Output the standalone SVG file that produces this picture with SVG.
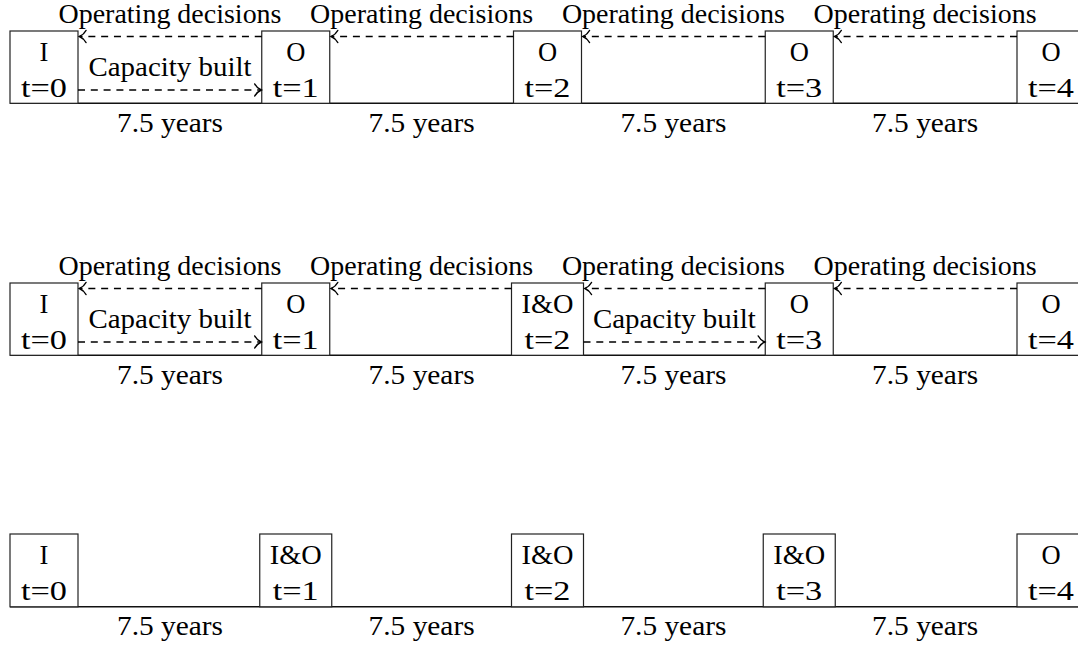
<svg xmlns="http://www.w3.org/2000/svg" width="1078" height="648" viewBox="0 0 1078 648" font-family="'Liberation Serif', 'DejaVu Serif', serif">
<style>
text{font-family:"Liberation Serif","DejaVu Serif",serif;font-size:26.5px;fill:#000;text-anchor:middle}
.box{fill:#fff;stroke:#222;stroke-width:1.2}
.axis{stroke:#111;stroke-width:1.4;fill:none}
.dash{stroke:#000;stroke-width:1.5;fill:none;stroke-dasharray:7 5.8;marker-end:url(#arr)}
</style>
<defs>
<marker id="arr" markerUnits="userSpaceOnUse" viewBox="-9 -8 11 16" refX="0" refY="0" markerWidth="11" markerHeight="16" orient="auto" overflow="visible">
<path d="M -6.5,-6 C -4.5,-2.2 -1.3,-0.6 0,0 C -1.3,0.6 -4.5,2.2 -6.5,6" fill="none" stroke="#000" stroke-width="1.5" stroke-linecap="round"/>
</marker>
</defs>

<!-- Row 1 -->
<g id="row1">
<line class="axis" x1="10" y1="103.3" x2="1078" y2="103.3"/>
<g id="r1n0"><rect class="box" x="10" y="31" width="68" height="72.3"/><text x="44" y="61">I</text><text x="44" y="96.7" textLength="46" lengthAdjust="spacingAndGlyphs">t=0</text></g>
<g id="r1n1"><rect class="box" x="261.75" y="31" width="68" height="72.3"/><text x="295.75" y="61">O</text><text x="295.75" y="96.7" textLength="46" lengthAdjust="spacingAndGlyphs">t=1</text></g>
<g id="r1n2"><rect class="box" x="513.5" y="31" width="68" height="72.3"/><text x="547.5" y="61">O</text><text x="547.5" y="96.7" textLength="46" lengthAdjust="spacingAndGlyphs">t=2</text></g>
<g id="r1n3"><rect class="box" x="765.25" y="31" width="68" height="72.3"/><text x="799.25" y="61">O</text><text x="799.25" y="96.7" textLength="46" lengthAdjust="spacingAndGlyphs">t=3</text></g>
<g id="r1n4"><rect class="box" x="1017" y="31" width="68" height="72.3"/><text x="1051" y="61">O</text><text x="1051" y="96.7" textLength="46" lengthAdjust="spacingAndGlyphs">t=4</text></g>
<g id="r1connectors">
<line class="dash" x1="261.75" y1="36.5" x2="79.5" y2="36.5"/>
<line class="dash" x1="513.5" y1="36.5" x2="331.25" y2="36.5"/>
<line class="dash" x1="765.25" y1="36.5" x2="583" y2="36.5"/>
<line class="dash" x1="1017" y1="36.5" x2="834.75" y2="36.5"/>
<line class="dash" x1="78" y1="90" x2="261.25" y2="90"/>
</g>
<g id="r1labels">
<text x="170" y="22.5" textLength="223" lengthAdjust="spacingAndGlyphs">Operating decisions</text>
<text x="421.6" y="22.5" textLength="223" lengthAdjust="spacingAndGlyphs">Operating decisions</text>
<text x="673.4" y="22.5" textLength="223" lengthAdjust="spacingAndGlyphs">Operating decisions</text>
<text x="925.1" y="22.5" textLength="223" lengthAdjust="spacingAndGlyphs">Operating decisions</text>
<text x="170" y="76" textLength="163" lengthAdjust="spacingAndGlyphs">Capacity built</text>
<text x="170" y="131.5" textLength="106" lengthAdjust="spacingAndGlyphs">7.5 years</text>
<text x="421.6" y="131.5" textLength="106" lengthAdjust="spacingAndGlyphs">7.5 years</text>
<text x="673.4" y="131.5" textLength="106" lengthAdjust="spacingAndGlyphs">7.5 years</text>
<text x="925.1" y="131.5" textLength="106" lengthAdjust="spacingAndGlyphs">7.5 years</text>
</g>
</g>

<!-- Row 2 -->
<g id="row2" transform="translate(0,252)">
<line class="axis" x1="10" y1="103.3" x2="1078" y2="103.3"/>
<g id="r2n0"><rect class="box" x="10" y="31" width="68" height="72.3"/><text x="44" y="61">I</text><text x="44" y="96.7" textLength="46" lengthAdjust="spacingAndGlyphs">t=0</text></g>
<g id="r2n1"><rect class="box" x="261.75" y="31" width="68" height="72.3"/><text x="295.75" y="61">O</text><text x="295.75" y="96.7" textLength="46" lengthAdjust="spacingAndGlyphs">t=1</text></g>
<g id="r2n2"><rect class="box" x="511.5" y="31" width="72" height="72.3"/><text x="547.5" y="61" textLength="52" lengthAdjust="spacingAndGlyphs">I&amp;O</text><text x="547.5" y="96.7" textLength="46" lengthAdjust="spacingAndGlyphs">t=2</text></g>
<g id="r2n3"><rect class="box" x="765.25" y="31" width="68" height="72.3"/><text x="799.25" y="61">O</text><text x="799.25" y="96.7" textLength="46" lengthAdjust="spacingAndGlyphs">t=3</text></g>
<g id="r2n4"><rect class="box" x="1017" y="31" width="68" height="72.3"/><text x="1051" y="61">O</text><text x="1051" y="96.7" textLength="46" lengthAdjust="spacingAndGlyphs">t=4</text></g>
<g id="r2connectors">
<line class="dash" x1="261.75" y1="36.5" x2="79.5" y2="36.5"/>
<line class="dash" x1="511.5" y1="36.5" x2="331.25" y2="36.5"/>
<line class="dash" x1="765.25" y1="36.5" x2="585" y2="36.5"/>
<line class="dash" x1="1017" y1="36.5" x2="834.75" y2="36.5"/>
<line class="dash" x1="78" y1="90" x2="261.25" y2="90"/>
<line class="dash" x1="583.5" y1="90" x2="764.75" y2="90"/>
</g>
<g id="r2labels">
<text x="170" y="22.5" textLength="223" lengthAdjust="spacingAndGlyphs">Operating decisions</text>
<text x="421.6" y="22.5" textLength="223" lengthAdjust="spacingAndGlyphs">Operating decisions</text>
<text x="673.4" y="22.5" textLength="223" lengthAdjust="spacingAndGlyphs">Operating decisions</text>
<text x="925.1" y="22.5" textLength="223" lengthAdjust="spacingAndGlyphs">Operating decisions</text>
<text x="170" y="76" textLength="163" lengthAdjust="spacingAndGlyphs">Capacity built</text>
<text x="674.4" y="76" textLength="163" lengthAdjust="spacingAndGlyphs">Capacity built</text>
<text x="170" y="131.5" textLength="106" lengthAdjust="spacingAndGlyphs">7.5 years</text>
<text x="421.6" y="131.5" textLength="106" lengthAdjust="spacingAndGlyphs">7.5 years</text>
<text x="673.4" y="131.5" textLength="106" lengthAdjust="spacingAndGlyphs">7.5 years</text>
<text x="925.1" y="131.5" textLength="106" lengthAdjust="spacingAndGlyphs">7.5 years</text>
</g>
</g>

<!-- Row 3 -->
<g id="row3" transform="translate(0,503)">
<line class="axis" x1="10" y1="103.8" x2="1078" y2="103.8"/>
<g id="r3n0"><rect class="box" x="10" y="31" width="68" height="72.8"/><text x="44" y="61">I</text><text x="44" y="96.7" textLength="46" lengthAdjust="spacingAndGlyphs">t=0</text></g>
<g id="r3n1"><rect class="box" x="259.75" y="31" width="72" height="72.8"/><text x="295.75" y="61" textLength="52" lengthAdjust="spacingAndGlyphs">I&amp;O</text><text x="295.75" y="96.7" textLength="46" lengthAdjust="spacingAndGlyphs">t=1</text></g>
<g id="r3n2"><rect class="box" x="511.5" y="31" width="72" height="72.8"/><text x="547.5" y="61" textLength="52" lengthAdjust="spacingAndGlyphs">I&amp;O</text><text x="547.5" y="96.7" textLength="46" lengthAdjust="spacingAndGlyphs">t=2</text></g>
<g id="r3n3"><rect class="box" x="763.25" y="31" width="72" height="72.8"/><text x="799.25" y="61" textLength="52" lengthAdjust="spacingAndGlyphs">I&amp;O</text><text x="799.25" y="96.7" textLength="46" lengthAdjust="spacingAndGlyphs">t=3</text></g>
<g id="r3n4"><rect class="box" x="1017" y="31" width="68" height="72.8"/><text x="1051" y="61">O</text><text x="1051" y="96.7" textLength="46" lengthAdjust="spacingAndGlyphs">t=4</text></g>
<g id="r3labels">
<text x="170" y="131.5" textLength="106" lengthAdjust="spacingAndGlyphs">7.5 years</text>
<text x="421.6" y="131.5" textLength="106" lengthAdjust="spacingAndGlyphs">7.5 years</text>
<text x="673.4" y="131.5" textLength="106" lengthAdjust="spacingAndGlyphs">7.5 years</text>
<text x="925.1" y="131.5" textLength="106" lengthAdjust="spacingAndGlyphs">7.5 years</text>
</g>
</g>
</svg>
